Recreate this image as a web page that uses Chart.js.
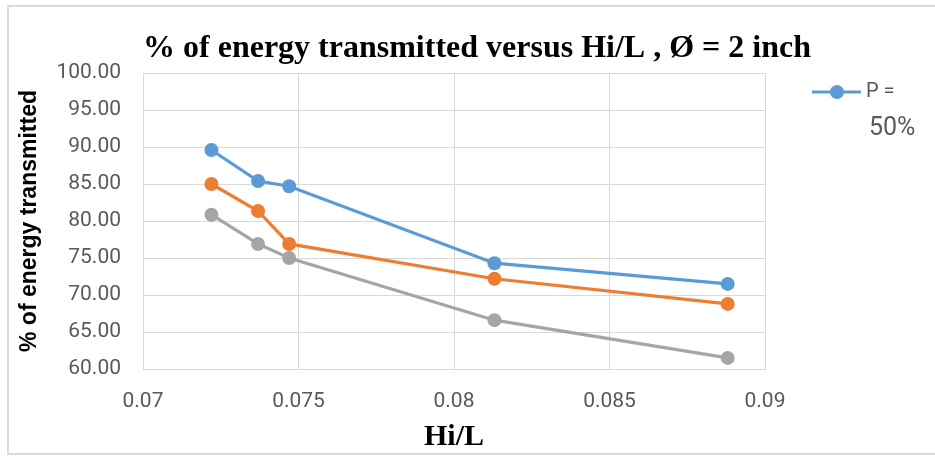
<!DOCTYPE html>
<html lang="en">
<head>
    <meta charset="UTF-8">
    <title>% of energy transmitted versus Hi/L</title>
    <script src="https://cdn.jsdelivr.net/npm/chart.js"></script>
    <style>
        html, body { margin: 0; padding: 0; background: #fff; }
        #wrap { position: relative; width: 935px; height: 456px; }
    </style>
</head>
<body>
<div id="wrap"><canvas id="energyChart" width="935" height="456"></canvas></div>
<script>
    // Hi/L values and % of energy transmitted for each series
    const hiL = [0.0722, 0.0737, 0.0747, 0.0813, 0.0888];
    const p50 = [89.6, 85.4, 84.7, 74.3, 71.5];
    const seriesB = [85.0, 81.35, 76.9, 72.2, 68.8];
    const seriesC = [80.85, 76.9, 75.0, 66.6, 61.5];

    const seriesNames = ['P = 50%', 'Series 2', 'Series 3'];
    const seriesColors = ['#5b9bd5', '#ed7d31', '#a5a5a5'];

    const yTicks = [60, 65, 70, 75, 80, 85, 90, 95, 100];
    const xTicks = [0.07, 0.075, 0.08, 0.085, 0.09];

    const chartTitle = '% of energy transmitted versus Hi/L , Ø = 2 inch';

    const tickColor = '#595959';
    const gridColor = '#d9d9d9';

    function toPoints(values) {
        return values.map((v, i) => ({ x: hiL[i], y: v }));
    }

    const datasets = [p50, seriesB, seriesC].map((values, i) => ({
        label: seriesNames[i],
        data: toPoints(values),
        showLine: true,
        borderColor: seriesColors[i],
        backgroundColor: seriesColors[i],
        borderWidth: 3.2,
        pointRadius: 7,
        pointHoverRadius: 7,
        pointBorderWidth: 0,
        tension: 0
    }));

    // white background, outer frame and the title centred over the plot
    const framePlugin = {
        id: 'frame',
        beforeDraw(chart) {
            const ctx = chart.ctx;
            ctx.save();
            ctx.fillStyle = '#fff';
            ctx.fillRect(0, 0, chart.width, chart.height);
            ctx.strokeStyle = '#d9d9d9';
            ctx.lineWidth = 2;
            ctx.strokeRect(8, 6, chart.width, chart.height - 8);
            ctx.restore();
        },
        afterDraw(chart) {
            const ctx = chart.ctx;
            const area = chart.chartArea;
            ctx.save();
            ctx.fillStyle = '#000';
            ctx.font = 'bold 32px "Liberation Serif"';
            ctx.textAlign = 'center';
            ctx.textBaseline = 'middle';
            ctx.fillText(chartTitle, (area.left + area.right) / 2 + 23, 49);
            ctx.restore();
        }
    };

    // legend only shows the first series, with its label wrapped on two lines
    const legendPlugin = {
        id: 'wrappedLegend',
        afterDraw(chart) {
            const ctx = chart.ctx;
            const ds = chart.data.datasets[0];
            const y = 92;
            ctx.save();
            ctx.strokeStyle = ds.borderColor;
            ctx.lineWidth = 3.2;
            ctx.beginPath();
            ctx.moveTo(812, y);
            ctx.lineTo(861, y);
            ctx.stroke();
            ctx.fillStyle = ds.backgroundColor;
            ctx.beginPath();
            ctx.arc(837, y, 7, 0, Math.PI * 2);
            ctx.fill();
            const parts = ds.label.split(' ');
            ctx.fillStyle = tickColor;
            ctx.textBaseline = 'middle';
            ctx.font = '20px Roboto';
            ctx.fillText(parts[0] + ' ' + parts[1], 866, y);
            ctx.font = '25px Roboto';
            ctx.fillText(parts[2], 869, 129);
            ctx.restore();
        }
    };

    new Chart(document.getElementById('energyChart'), {
        type: 'scatter',
        data: { datasets: datasets },
        plugins: [framePlugin, legendPlugin],
        options: {
            responsive: false,
            animation: false,
            layout: { padding: { left: 14, right: 170, top: 73, bottom: 0 } },
            plugins: {
                legend: { display: false },
                tooltip: { enabled: false },
                title: { display: false }
            },
            scales: {
                x: {
                    type: 'linear',
                    min: 0.07,
                    max: 0.09,
                    afterBuildTicks(scale) {
                        scale.ticks = xTicks.map(v => ({ value: v }));
                    },
                    afterFit(scale) { scale.height = 87; },
                    ticks: {
                        color: tickColor,
                        font: { family: 'Roboto', size: 21 },
                        padding: 20,
                        callback: v => String(v)
                    },
                    grid: { color: gridColor, lineWidth: 1, drawTicks: false },
                    border: { color: gridColor, width: 1 },
                    title: {
                        display: true,
                        text: 'Hi/L',
                        color: '#000',
                        font: { family: 'Liberation Serif', size: 30, weight: 'bold', lineHeight: 1.2 },
                        padding: { top: 0, bottom: 1 }
                    }
                },
                y: {
                    min: 60,
                    max: 100,
                    afterBuildTicks(scale) {
                        scale.ticks = yTicks.map(v => ({ value: v }));
                    },
                    afterFit(scale) { scale.width = 129; },
                    ticks: {
                        color: tickColor,
                        font: { family: 'Roboto', size: 21 },
                        padding: 22,
                        callback: v => v.toFixed(2)
                    },
                    grid: { color: gridColor, lineWidth: 1, drawTicks: false },
                    border: { color: gridColor, width: 1 },
                    title: {
                        display: true,
                        text: '% of energy transmitted',
                        color: '#000',
                        font: { family: 'Liberation Sans', size: 23, weight: 'bold', lineHeight: 1.2 },
                        padding: { top: 2, bottom: 0 }
                    }
                }
            }
        }
    });
</script>
</body>
</html>
